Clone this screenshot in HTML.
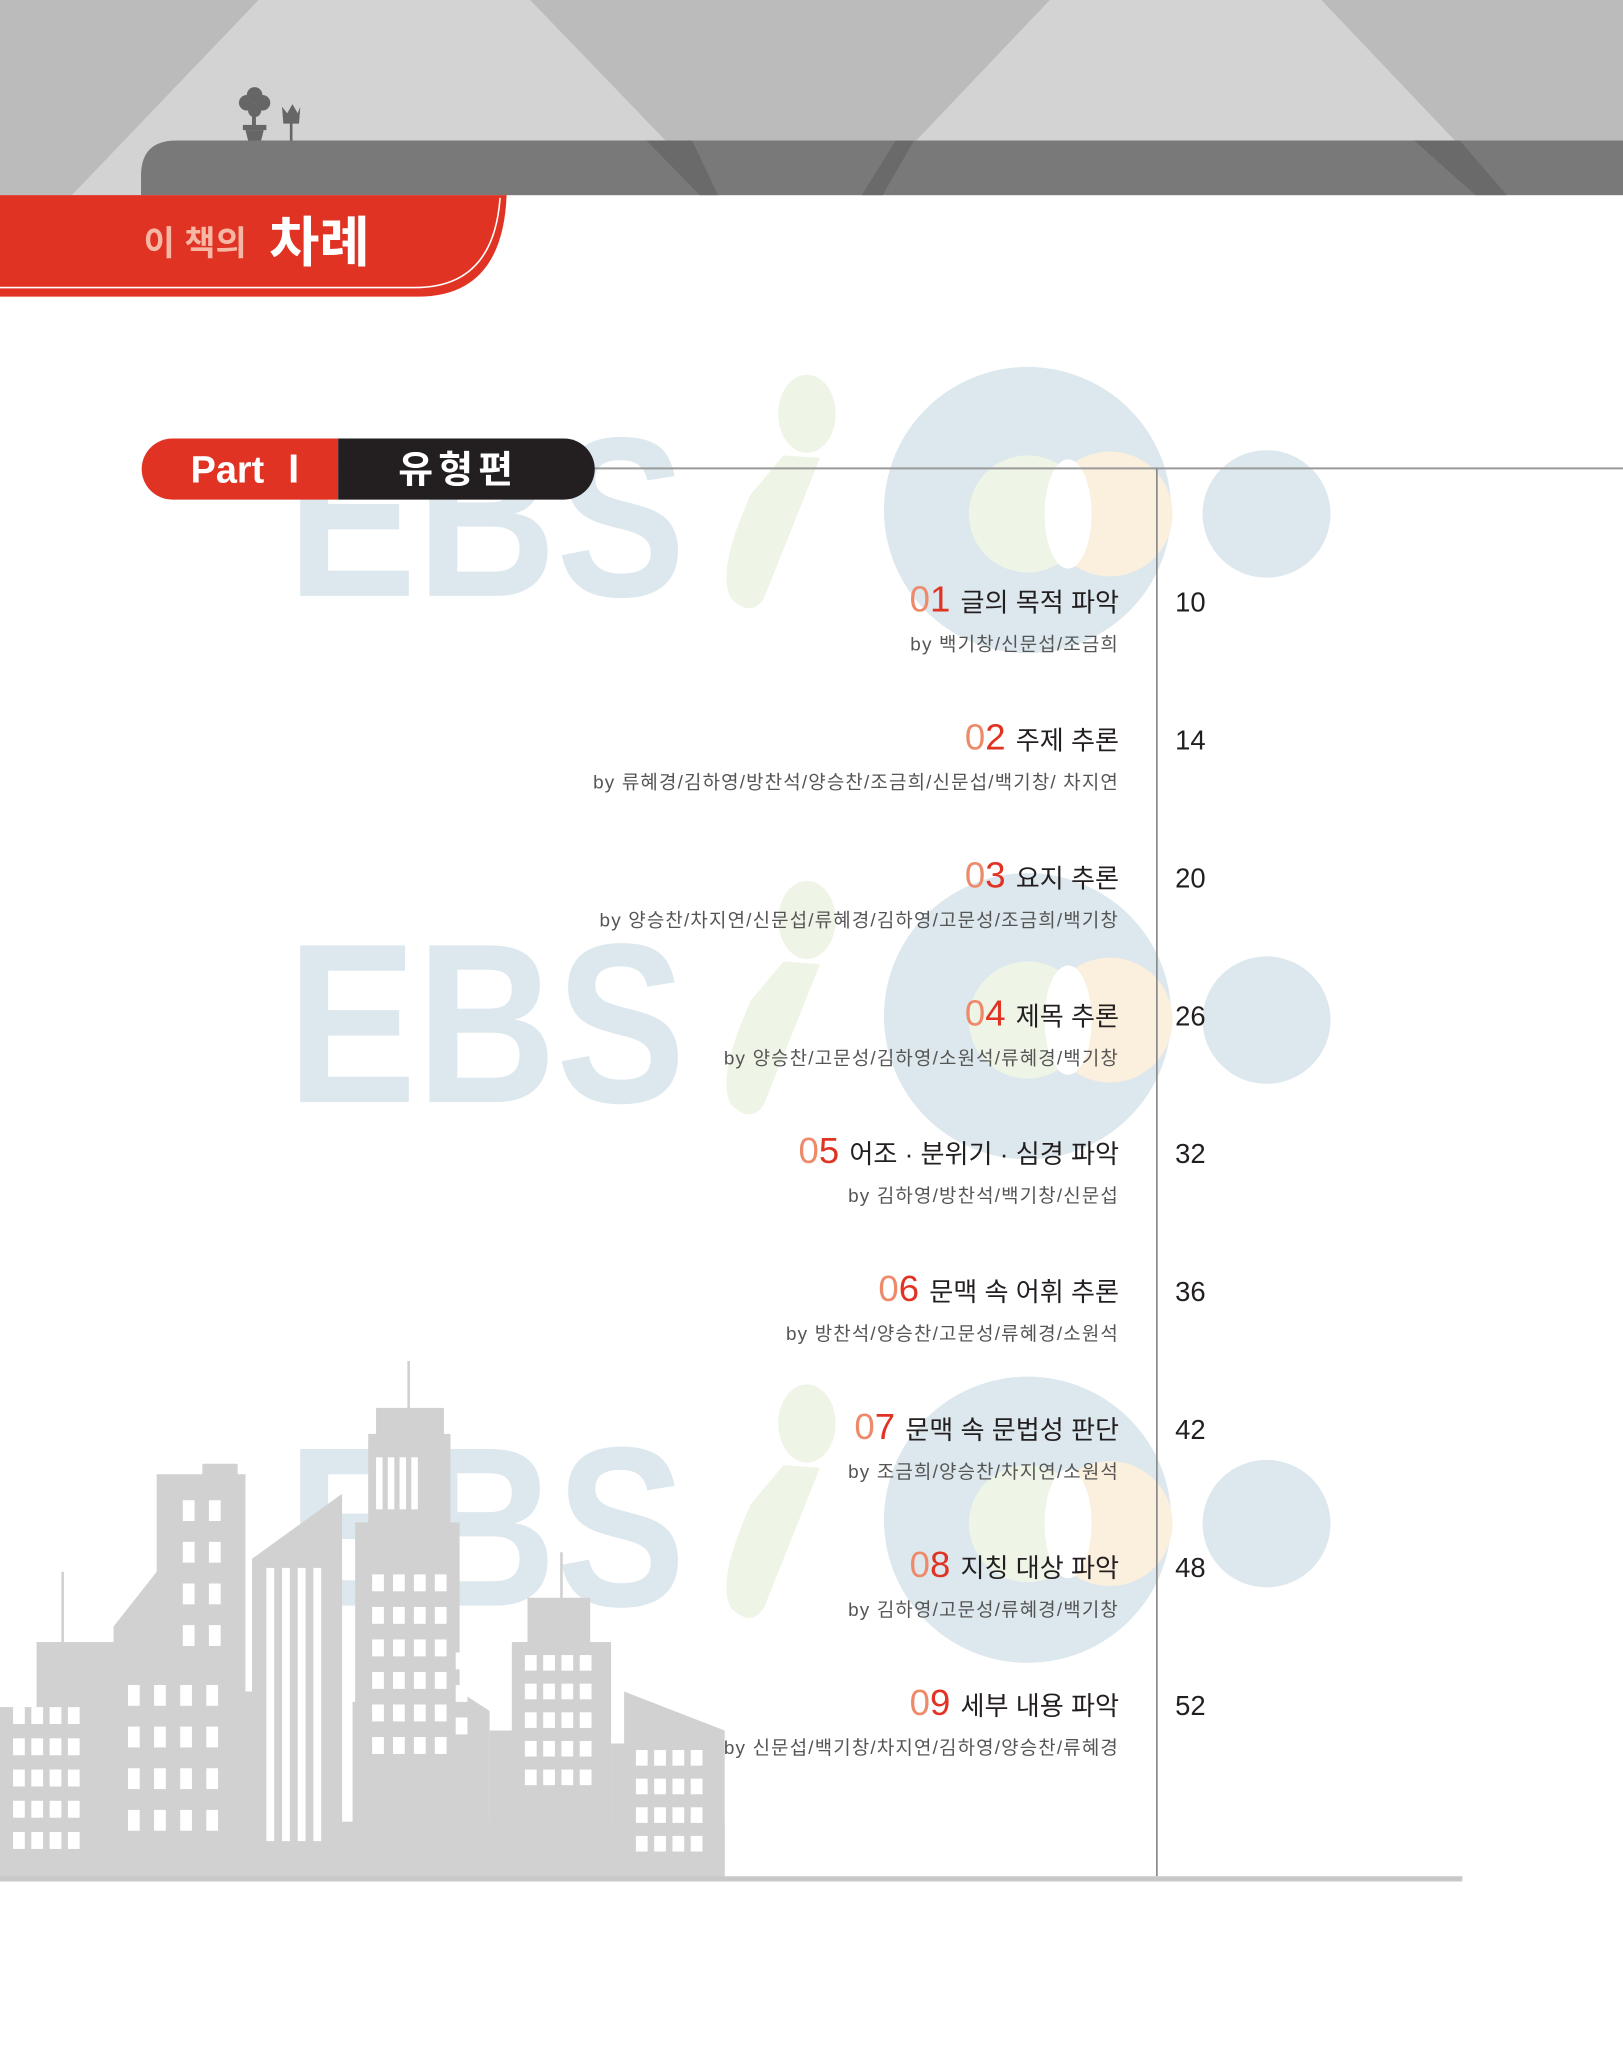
<!DOCTYPE html>
<html><head><meta charset="utf-8">
<style>
html,body{margin:0;padding:0;background:#fff;}
body{width:1623px;height:2048px;overflow:hidden;}
svg{display:block;}
text{font-family:"Liberation Sans","Noto Sans CJK KR",sans-serif;}
</style></head>
<body>
<svg id="page" width="1623" height="2048" viewBox="0 0 1243 1574" preserveAspectRatio="none" xmlns="http://www.w3.org/2000/svg">
  <g>
    <rect x="0" y="0" width="1243" height="150" fill="#bcbbbc"/>
    <polygon points="198,0 406,0 550,150 55,150" fill="#d3d3d3"/>
    <polygon points="804,0 1012,0 1154,150 662,150" fill="#d3d3d3"/>
    <path d="M108,150 L108,135 Q108,108 135,108 L1243,108 L1243,150 Z" fill="#7a797a"/>
    <polygon points="495,108 530,108 550,150 536,150" fill="#6b6a6b"/>
    <polygon points="660,150 686,108 700,108 676,150" fill="#6b6a6b"/>
    <polygon points="1083,108 1118,108 1154,150 1130,150" fill="#6b6a6b"/>
    <g fill="#666">
      <circle cx="195" cy="73" r="6"/><circle cx="189" cy="79" r="6"/><circle cx="201" cy="79" r="6"/><circle cx="195" cy="85" r="5"/>
      <rect x="193" y="85" width="3" height="15"/>
      <rect x="186" y="96" width="18" height="4"/><polygon points="188,100 202,100 200,108 190,108"/>
      <polygon points="216,82 220,87 224,80 228,87 230,82 229,95 217,95"/>
      <rect x="222" y="94" width="2" height="14"/>
    </g>
  </g>
  <g>
    <path d="M0,150 L388,150 Q385,228 320,228 L0,228 Z" fill="#e03323"/>
    <path d="M0,221 L318,221 Q378,221 383,152" fill="none" stroke="#fff" stroke-width="1.2"/>
    <text x="110" y="196" font-size="26" font-weight="bold" fill="#f6b8a4">이 책의</text>
    <text x="206" y="201" font-size="42" font-weight="bold" fill="#fff">차례</text>
  </g>
  <g id="watermarks"></g>
  <g id="city" fill="#d1d1d1"></g>
  <g>
    <line x1="450" y1="360" x2="1243" y2="360" stroke="#9a9a9a" stroke-width="1.5"/>
    <path d="M132,337 L259,337 L259,384 L132,384 A23.5,23.5 0 0 1 132,337 Z" fill="#e03323"/>
    <path d="M259,337 L432,337 A23.5,23.5 0 0 1 432,384 L259,384 Z" fill="#231f20"/>
    <text x="146" y="371" font-size="29" font-weight="bold" fill="#fff">Part Ⅰ</text>
    <text x="305" y="371" font-size="29" font-weight="bold" fill="#fff" letter-spacing="4">유형편</text>
  </g>
  <line x1="886" y1="360" x2="886" y2="1442" stroke="#8a8a8a" stroke-width="1.3"/>
  <line x1="0" y1="1444" x2="1120" y2="1444" stroke="#c8c8c8" stroke-width="4"/>
  <g id="toc"></g>
</svg>
<script>
const NS="http://www.w3.org/2000/svg";
const nums=["01","02","03","04","05","06","07","08","09"];
const titles=["글의 목적 파악","주제 추론","요지 추론","제목 추론","어조 · 분위기 · 심경 파악","문맥 속 어휘 추론","문맥 속 문법성 판단","지칭 대상 파악","세부 내용 파악"];
const authors=["by 백기창/신문섭/조금희","by 류혜경/김하영/방찬석/양승찬/조금희/신문섭/백기창/ 차지연","by 양승찬/차지연/신문섭/류혜경/김하영/고문성/조금희/백기창","by 양승찬/고문성/김하영/소원석/류혜경/백기창","by 김하영/방찬석/백기창/신문섭","by 방찬석/양승찬/고문성/류혜경/소원석","by 조금희/양승찬/차지연/소원석","by 김하영/고문성/류혜경/백기창","by 신문섭/백기창/차지연/김하영/양승찬/류혜경"];
const pages=["10","14","20","26","32","36","42","48","52"];
function mk(tag,attrs,parent){const e=document.createElementNS(NS,tag);for(const k in attrs)e.setAttribute(k,attrs[k]);parent.appendChild(e);return e;}

const wm=document.getElementById('watermarks');
[0,389,776].forEach((dy,i)=>{
  const g=mk('g',{transform:'translate(0,'+dy+')'},wm);
  
  
  mk('circle',{cx:787,cy:392,r:110,fill:'#dde8ee'},g);
  mk('circle',{cx:970,cy:395,r:49,fill:'#dde8ee'},g);
  mk('circle',{cx:850,cy:395,r:48,fill:'#fbefdd'},g);
  mk('circle',{cx:787,cy:395,r:45,fill:'#eef4e6'},g);
  mk('ellipse',{cx:818,cy:395,rx:18,ry:42,fill:'#ffffff'},g);
  const t=mk('text',{x:220,y:458,'font-size':175,'font-weight':'bold',fill:'#dde8ee',textLength:305,lengthAdjust:'spacingAndGlyphs'},g);t.textContent='EBS';
  mk('ellipse',{cx:618,cy:318,rx:22,ry:30,fill:'#eef4e6'},g);
  mk('path',{d:'M600,350 L628,352 L585,460 Q575,475 560,460 Q548,440 575,380 Z',fill:'#eef4e6'},g);
});

const city=document.getElementById('city');
const bld=[
 "M0,1445 L0,1312 L28,1312 L28,1262 L100,1262 L100,1445 Z",
 "M87,1445 L87,1250 L120,1208 L120,1133 L155,1133 L155,1125 L182,1125 L182,1133 L188,1133 L188,1300 L200,1300 L200,1445 Z",
 "M193,1445 L193,1198 L262,1148 L262,1445 Z",
 "M270,1445 L270,1308 L272,1308 L272,1170 L282,1170 L282,1102 L288,1102 L288,1082 L340,1082 L340,1102 L345,1102 L345,1170 L352,1170 L352,1300 L375,1315 L375,1445 Z",
 "M375,1445 L375,1330 L392,1330 L392,1262 L404,1262 L404,1228 L452,1228 L452,1262 L468,1262 L468,1445 Z",
 "M468,1445 L468,1340 L478,1340 L478,1300 L555,1330 L555,1445 Z",
 "M0,1400 L555,1400 L555,1445 L0,1445 Z"
];
bld.forEach(d=>{const p=mk('path',{d:d},city);});
mk('rect',{x:47,y:1208,width:2,height:55},city);
mk('rect',{x:312,y:1046,width:2,height:40},city);
mk('rect',{x:429,y:1193,width:2,height:36},city);
const win=mk('g',{fill:'#ffffff'},city);
function grid(x0,y0,cols,rows,w,h,dx,dy){for(let r=0;r<rows;r++)for(let c=0;c<cols;c++)mk('rect',{x:x0+c*dx,y:y0+r*dy,width:w,height:h},win);}
grid(10,1312,4,5,9,13,14,24);
grid(98,1295,4,4,9,16,20,32);
grid(140,1153,2,4,9,16,20,32);
grid(204,1205,4,1,6,210,12,0);
grid(288,1120,4,1,5,40,9,0);
grid(285,1210,4,6,9,13,16,25);
grid(349,1270,1,3,9,13,16,25);
grid(402,1272,4,5,9,12,14,22);
grid(487,1345,4,4,9,12,14,22);

const toc=document.getElementById('toc');
nums.forEach((n,i)=>{
  const y=470+i*106;
  const g=mk('g',{},toc);
  
  
  const t=mk('text',{x:857,y:y,'text-anchor':'end','font-size':20,fill:'#231f20'},g);
  const a=mk('tspan',{'font-size':28,fill:'#ec8a6a'},t);a.textContent=n[0];
  const b=mk('tspan',{'font-size':28,fill:'#e03323'},t);b.textContent=n[1]+' ';
  const c=mk('tspan',{},t);c.textContent=titles[i];
  
  
  const au=mk('text',{x:857,y:y+30,'text-anchor':'end','font-size':14.5,fill:'#555','letter-spacing':'0.9'},g);
  au.textContent=authors[i];
  
  
  const pg=mk('text',{x:900,y:y,'font-size':21,fill:'#231f20'},g);
  pg.textContent=pages[i];
  
  
});
</script>
</body></html>
